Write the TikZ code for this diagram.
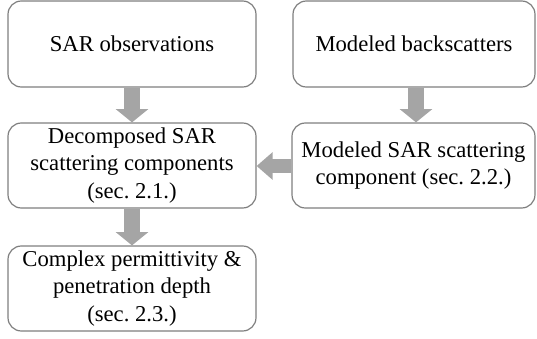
\documentclass[tikz,border=0pt]{standalone}
\usepackage{fontspec}
\setmainfont{Liberation Serif}
\usetikzlibrary{arrows.meta}
\definecolor{boxgray}{HTML}{7F7F7F}
\definecolor{arrowgray}{HTML}{A5A5A5}
\frenchspacing
\begin{document}
\begin{tikzpicture}[x=0.75pt,y=-0.75pt,
  box/.style={draw=boxgray, line width=0.9pt, rounded corners=10pt, fill=white,
    align=center, inner sep=0pt, font=\fontsize{17}{20.3}\selectfont},
  fatv/.style={draw=arrowgray, line width=12pt, -{Triangle[width=24pt,length=10pt]}},
  fath/.style={draw=arrowgray, line width=10.5pt, -{Triangle[width=20pt,length=12pt]}}]
\useasboundingbox (0,0) rectangle (537,339);
\node[box, minimum width=186pt, minimum height=64.5pt] (obs) at (132,44) {SAR observations};
\node[box, minimum width=181.5pt, minimum height=64.5pt] (mback) at (414,44) {Modeled backscatters};
\node[box, minimum width=186pt, minimum height=63.75pt] (decomp) at (132,165.5) {Decomposed SAR\\scattering components\\(sec. 2.1.)};
\node[box, minimum width=182.25pt, minimum height=63.75pt] (mscat) at (413.5,165.5) {Modeled SAR scattering\\component (sec. 2.2.)};
\node[box, minimum width=186pt, minimum height=63.75pt] (perm) at (132,288.5) {Complex permittivity \&\\penetration depth\\(sec. 2.3.)};
\draw[fatv] (obs.south) -- (decomp.north);
\draw[fatv] ([xshift=1.5pt]mback.south) -- ([xshift=1.5pt]mback.south |- mscat.north);
\draw[fath] (mscat.west |- 0,166) -- (decomp.east |- 0,166);
\draw[fatv] (decomp.south) -- (perm.north);
\end{tikzpicture}
\end{document}
